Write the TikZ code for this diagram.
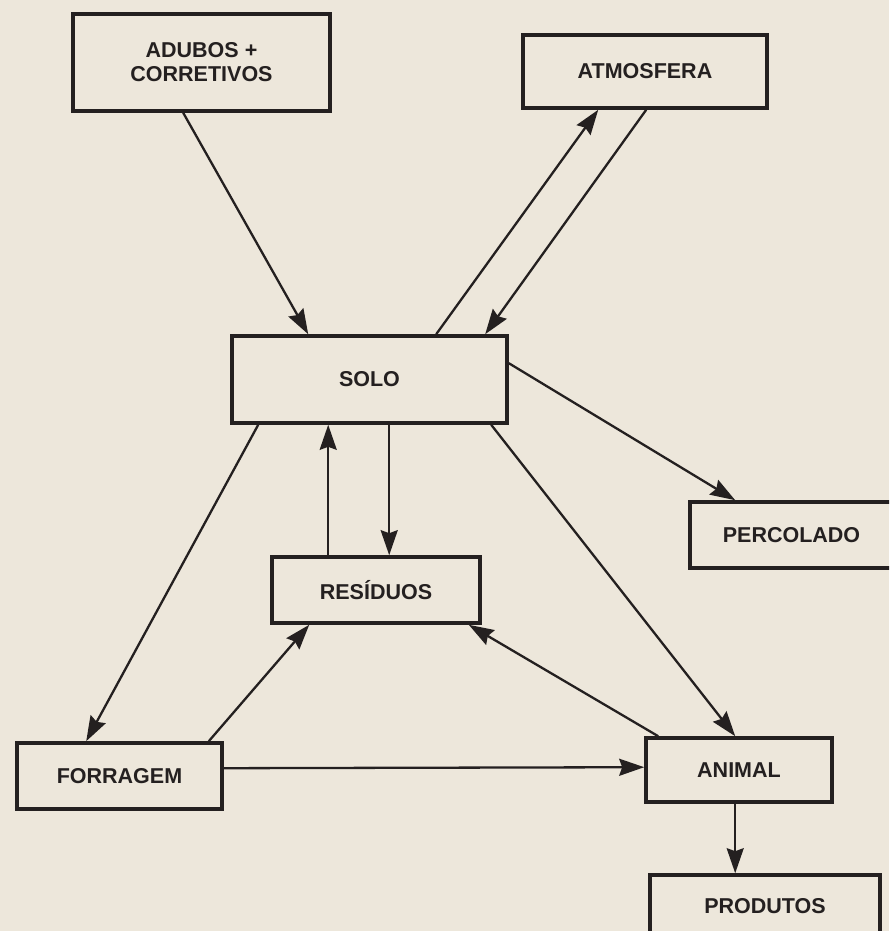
\documentclass[tikz,border=0pt]{standalone}
\usepackage{fontspec}
\setmainfont{Liberation Sans}
\usetikzlibrary{arrows.meta,calc}
\definecolor{paper}{RGB}{237,231,219}
\definecolor{ink}{RGB}{36,32,32}
\begin{document}
\begin{tikzpicture}[x=1pt,y=-1pt,
  box/.style={draw=ink,line width=3.6pt,text=ink,
    font=\bfseries\fontsize{21.5}{24}\selectfont,align=center,inner sep=0pt},
  flow/.style={draw=ink,line width=2.3pt,
    -{Stealth[length=25pt,width=17pt,inset=3pt]}}]
\useasboundingbox (0,0) rectangle (889,931);
\fill[paper] (0,0) rectangle (889,931);
\clip (0,0) rectangle (889,931);

\node[box,minimum width=257pt,minimum height=97pt] (adubos) at (201.5,62.5) {ADUBOS +\\CORRETIVOS};
\node[box,minimum width=244pt,minimum height=73pt] (atmos) at (645,71.5) {ATMOSFERA};
\node[box,minimum width=275pt,minimum height=87pt] (solo) at (369.5,379.5) {SOLO};
\node[box,minimum width=203pt,minimum height=66pt] (perc) at (791.5,535) {PERCOLADO};
\node[box,minimum width=208pt,minimum height=66pt] (resid) at (376,590) {RESÍDUOS};
\node[box,minimum width=205pt,minimum height=66pt] (forr) at (119.5,776) {FORRAGEM};
\node[box,minimum width=186pt,minimum height=64pt] (animal) at (739,770) {ANIMAL};
\node[box,minimum width=230pt,minimum height=63pt] (prod) at (765,906.5) {PRODUTOS};

\draw[flow] ($(adubos.south west)+(112,0)$) -- ($(solo.north west)+(78,0)$);
\draw[flow] ($(solo.north west)+(206,0)$) -- ($(atmos.south west)+(77,0)$);
\draw[flow] ($(atmos.south west)+(125,0)$) -- ($(solo.north west)+(255,0)$);
\draw[flow] ($(solo.north east)+(0,29)$) -- ($(perc.north west)+(47,0)$);
\draw[flow] ($(solo.south west)+(28,0)$) -- ($(forr.north west)+(71,0)$);
\draw[flow] ($(resid.north west)+(58,0)$) -- ($(solo.south west)+(98,0)$);
\draw[flow] ($(solo.south west)+(159,0)$) -- ($(resid.north west)+(119,0)$);
\draw[flow] ($(solo.south west)+(261,0)$) -- ($(animal.north west)+(91,0)$);
\draw[flow] ($(forr.north east)+(-15,0)$) -- ($(resid.south west)+(39,0)$);
\draw[flow] ($(animal.north west)+(14,0)$) -- ($(resid.south east)+(-13,0)$);
\draw[flow] ($(forr.north east)+(0,27)$) -- ($(animal.north west)+(0,31)$);
\draw[flow] ($(animal.south west)+(91,0)$) -- ($(prod.north west)+(87,0)$);
\end{tikzpicture}
\end{document}
